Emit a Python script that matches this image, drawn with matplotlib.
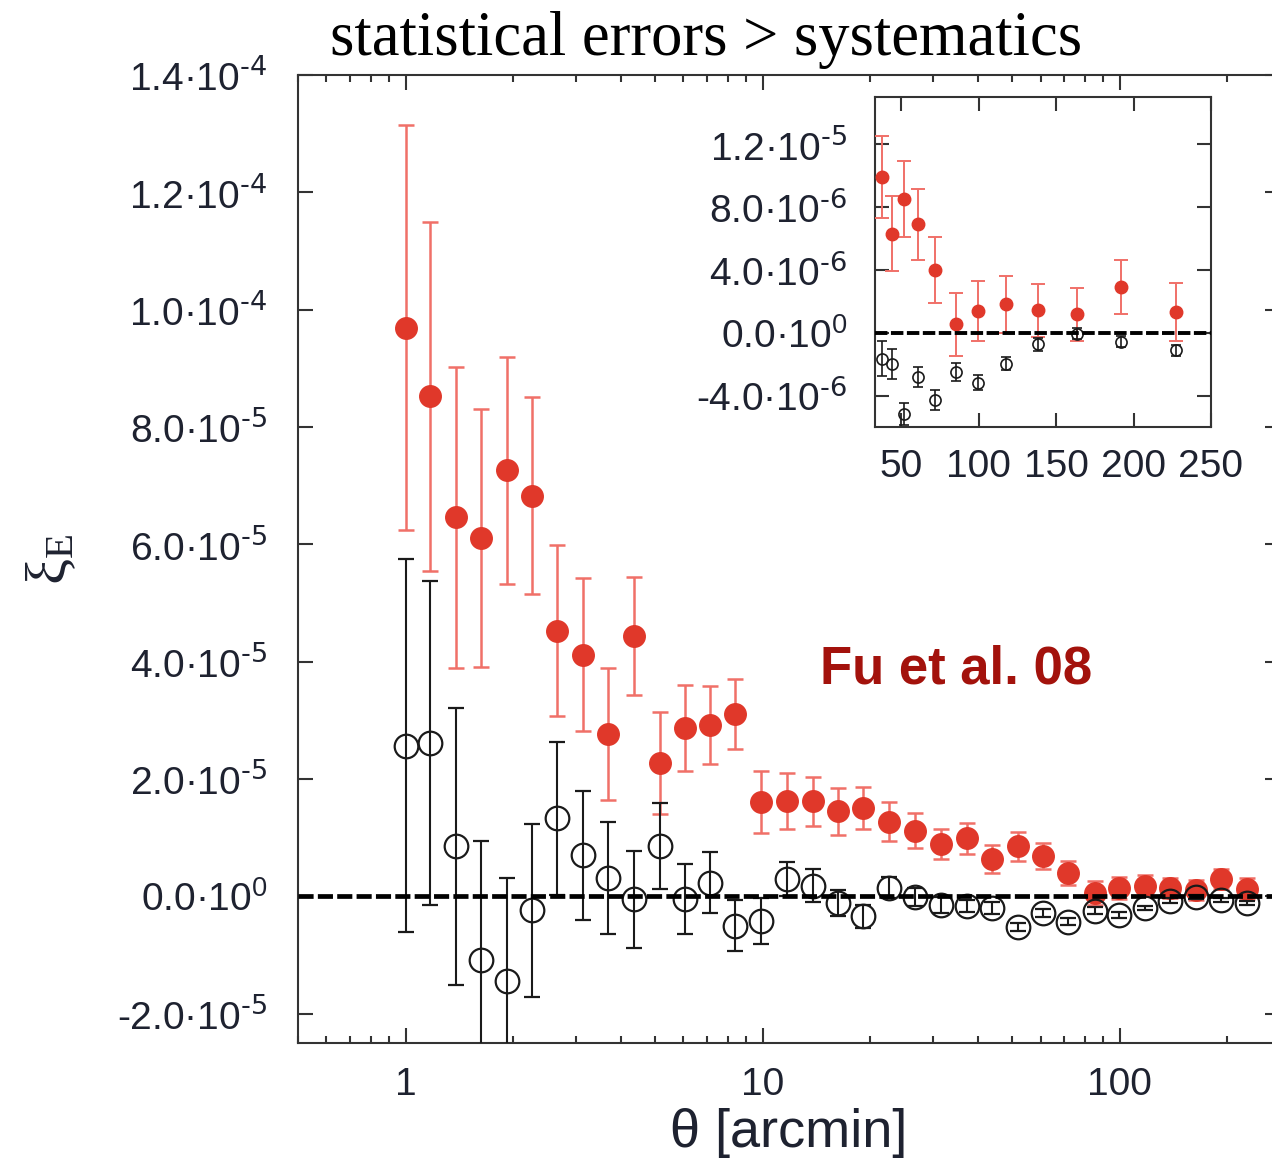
import matplotlib
matplotlib.use("Agg")
import matplotlib.pyplot as plt
import numpy as np
from matplotlib.ticker import FixedLocator, FixedFormatter, LogLocator, NullFormatter

plt.rcParams['font.family'] = ['Liberation Sans', 'DejaVu Sans']
plt.rcParams['mathtext.default'] = 'regular'

# ---------------- data ----------------
theta = [1.00, 1.17, 1.385, 1.63, 1.93, 2.26, 2.66, 3.15, 3.70, 4.35, 5.15, 6.05,
         7.10, 8.37, 9.87, 11.7, 13.8, 16.3, 19.1, 22.6, 26.7, 31.5, 37.3, 44.0,
         51.8, 60.8, 71.8, 85.0, 99.5, 117.5, 138.5, 163.5, 192.0, 227.5]

# E-mode (red), units of 1e-5
xiE_red = [9.69, 8.52, 6.46, 6.11, 7.26, 6.83, 4.53, 4.12, 2.77, 4.44, 2.27, 2.87,
           2.92, 3.11, 1.61, 1.62, 1.62, 1.45, 1.50, 1.27, 1.12, 0.89, 0.99, 0.63,
           0.85, 0.69, 0.40, 0.053, 0.138, 0.18, 0.142, 0.116, 0.29, 0.133]
err_red = [3.45, 2.97, 2.57, 2.20, 1.93, 1.68, 1.46, 1.31, 1.12, 1.00, 0.87, 0.74,
           0.66, 0.60, 0.53, 0.48, 0.42, 0.40, 0.36, 0.33, 0.30, 0.25, 0.26, 0.24,
           0.24, 0.225, 0.21, 0.20, 0.19, 0.18, 0.17, 0.17, 0.17, 0.185]

# systematics (black open), units of 1e-5
xiE_sys = [2.57, 2.61, 0.85, -1.09, -1.44, -0.24, 1.33, 0.70, 0.31, -0.05, 0.86, -0.05,
           0.23, -0.50, -0.42, 0.29, 0.18, -0.12, -0.34, 0.15, -0.01, -0.15, -0.165, -0.20,
           -0.519, -0.281, -0.43, -0.248, -0.317, -0.197, -0.074, -0.006, -0.057, -0.112]
err_sys = [3.18, 2.76, 2.36, 2.03, 1.75, 1.47, 1.30, 1.10, 0.95, 0.83, 0.73, 0.60,
           0.52, 0.43, 0.40, 0.29, 0.28, 0.22, 0.20, 0.18, 0.15, 0.14, 0.11, 0.095,
           0.07, 0.065, 0.065, 0.058, 0.05, 0.04, 0.04, 0.035, 0.035, 0.035]

main_yticks = [-2e-5, 0.0, 2e-5, 4e-5, 6e-5, 8e-5, 1.0e-4, 1.2e-4, 1.4e-4]
main_ylabels = ['-2.0·10$^{\\text{-5}}$', '0.0·10$^{0}$', '2.0·10$^{\\text{-5}}$',
                '4.0·10$^{\\text{-5}}$', '6.0·10$^{\\text{-5}}$', '8.0·10$^{\\text{-5}}$',
                '1.0·10$^{\\text{-4}}$', '1.2·10$^{\\text{-4}}$', '1.4·10$^{\\text{-4}}$']
main_xticks = [1, 10, 100]
main_xlabels = ['1', '10', '100']

inset_yticks = [-4e-6, 0.0, 4e-6, 8e-6, 1.2e-5]
inset_ylabels = ['-4.0·10$^{\\text{-6}}$', '0.0·10$^{0}$', '4.0·10$^{\\text{-6}}$',
                 '8.0·10$^{\\text{-6}}$', '1.2·10$^{\\text{-5}}$']
inset_xticks = [50, 100, 150, 200, 250]
inset_xlabels = ['50', '100', '150', '200', '250']
inset_theta_min = 35

title_text = 'statistical errors > systematics'
ref_text = 'Fu et al. 08'

th = np.array(theta)
yr = np.array(xiE_red) * 1e-5
er = np.array(err_red) * 1e-5
ys = np.array(xiE_sys) * 1e-5
es = np.array(err_sys) * 1e-5

RED = '#e0382a'
RED_ERR = '#f07068'
BLACK = '#1a1a1a'
TXT = '#1e2230'

W, H = 1272, 1165
fig = plt.figure(figsize=(W / 100, H / 100), dpi=100)

def px_axes(l, t, r, b):
    return [l / W, 1 - b / H, (r - l) / W, (b - t) / H]

ax = fig.add_axes(px_axes(298, 75, 1280, 1043))
ax.set_xscale('log')
ax.set_xlim(0.5, 281)
ax.set_ylim(-2.5e-5, 1.4e-4)

ax.errorbar(th, yr, yerr=er, fmt='o', color=RED, ecolor=RED_ERR, elinewidth=1.8,
            capsize=6, capthick=1.8, markersize=15.5, markeredgecolor=RED, zorder=3)
ax.errorbar(th, ys, yerr=es, fmt='o', color=BLACK, ecolor=BLACK, elinewidth=1.5,
            capsize=6, capthick=1.5, markersize=17, markerfacecolor='none',
            markeredgecolor=BLACK, markeredgewidth=1.6, zorder=4)
ax.axhline(0, color='black', lw=3.4, dashes=(3.2, 0.9), zorder=5)

for s in ax.spines.values():
    s.set_linewidth(1.5)
    s.set_color('#333333')

ax.yaxis.set_major_locator(FixedLocator(main_yticks))
ax.yaxis.set_major_formatter(FixedFormatter(main_ylabels))
ax.xaxis.set_major_locator(FixedLocator(main_xticks))
ax.xaxis.set_major_formatter(FixedFormatter(main_xlabels))
ax.xaxis.set_minor_locator(LogLocator(base=10, subs=np.arange(2, 10), numticks=20))
ax.xaxis.set_minor_formatter(NullFormatter())
ax.tick_params(which='both', direction='in', top=True, right=True, width=1.5,
               color='#333333', labelsize=28, labelcolor=TXT)
ax.tick_params(which='major', length=11)
ax.tick_params(which='minor', length=5)
ax.tick_params(axis='y', pad=22)
ax.tick_params(axis='x', pad=17)

ax.set_xlabel('θ [arcmin]', fontsize=39, color=TXT, labelpad=4)
ax.set_ylabel('ξ$_{E}$', fontsize=42, color=TXT, labelpad=28,
              family=['Liberation Serif', 'DejaVu Serif'])

fig.text(706 / W, 1 - 55 / H, title_text, ha='center', va='baseline',
         fontsize=45, family=['Liberation Serif', 'DejaVu Serif'], color='black')
fig.text(820 / W, 1 - 683 / H, ref_text, ha='left', va='baseline', fontsize=38,
         fontweight='bold', color='#a3120c',
         family=['Liberation Sans Narrow', 'Liberation Sans', 'DejaVu Sans'])

# ---------------- inset ----------------
sel = th >= inset_theta_min
ins = fig.add_axes(px_axes(875, 97, 1211, 427))
ins.set_facecolor('white')
ins.set_zorder(10)
ins.set_xlim(33, 250)
ins.set_ylim(-6e-6, 1.5e-5)
ins.errorbar(th[sel], yr[sel], yerr=er[sel], fmt='o', color=RED, ecolor=RED_ERR,
             elinewidth=1.4, capsize=5, capthick=1.4, markersize=9,
             markeredgecolor=RED, zorder=3)
ins.errorbar(th[sel], ys[sel], yerr=es[sel], fmt='o', color=BLACK, ecolor=BLACK,
             elinewidth=1.2, capsize=3.6, capthick=1.2, markersize=8,
             markerfacecolor='none', markeredgecolor=BLACK, markeredgewidth=1.2,
             zorder=4)
ins.axhline(0, color='black', lw=2.8, dashes=(3.2, 0.9), zorder=5)
for s in ins.spines.values():
    s.set_linewidth(1.5)
    s.set_color('#333333')
ins.yaxis.set_major_locator(FixedLocator(inset_yticks))
ins.yaxis.set_major_formatter(FixedFormatter(inset_ylabels))
ins.xaxis.set_major_locator(FixedLocator(inset_xticks))
ins.xaxis.set_major_formatter(FixedFormatter(inset_xlabels))
ins.tick_params(which='both', direction='in', top=True, right=True, width=1.5,
                length=10, color='#333333', labelsize=28, labelcolor=TXT)
ins.tick_params(axis='y', pad=20)
ins.tick_params(axis='x', pad=16)

fig.savefig('out.png', dpi=100)
